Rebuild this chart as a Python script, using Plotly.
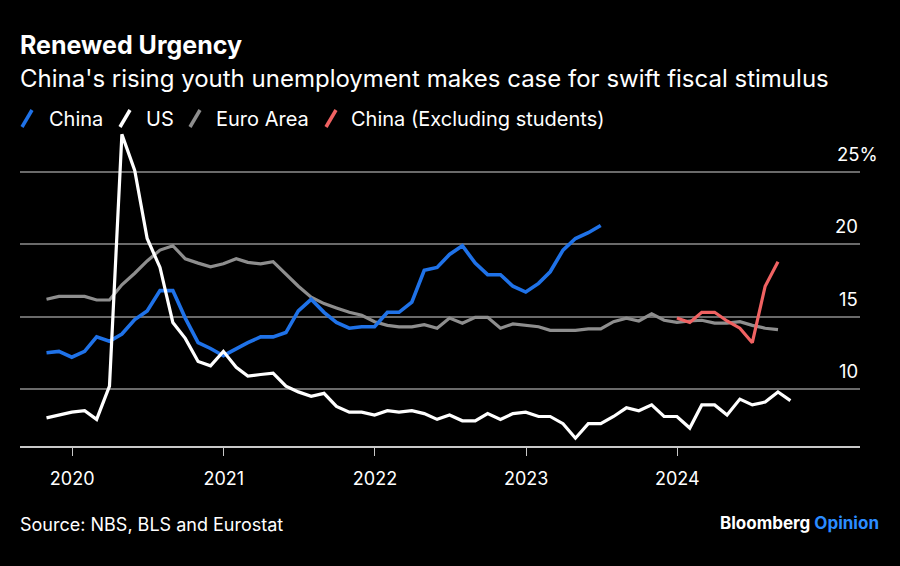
import plotly.graph_objects as go
import pandas as pd

# ---------------- data ----------------
china = [12.5, 12.6, 12.2,
         12.6, 13.6, 13.3, 13.8, 14.8, 15.4, 16.8, 16.8, 14.9, 13.2, 12.8, 12.3,
         12.8, 13.2, 13.6, 13.6, 13.9, 15.4, 16.2, 15.3, 14.6, 14.2, 14.3, 14.3,
         15.3, 15.3, 16.0, 18.2, 18.4, 19.3, 19.9, 18.7, 17.9, 17.9, 17.1, 16.7,
         17.3, 18.1, 19.6, 20.4, 20.8, 21.3]
us = [8.0, 8.2, 8.4,
      8.5, 7.9, 10.2, 27.6, 25.1, 20.4, 18.4, 14.6, 13.5, 11.9, 11.6, 12.6,
      11.5, 10.9, 11.0, 11.1, 10.2, 9.8, 9.5, 9.7, 8.8, 8.4, 8.4, 8.2,
      8.5, 8.4, 8.5, 8.3, 7.9, 8.2, 7.8, 7.8, 8.3, 7.9, 8.3, 8.4,
      8.1, 8.1, 7.6, 6.6, 7.6, 7.6, 8.1, 8.7, 8.5, 8.9, 8.1, 8.1,
      7.3, 8.9, 8.9, 8.2, 9.3, 8.9, 9.1, 9.8, 9.2]
euro = [16.2, 16.4, 16.4,
        16.4, 16.15, 16.15, 17.2, 18.0, 18.85, 19.6, 19.9, 19.0, 18.7, 18.45, 18.65,
        19.0, 18.75, 18.65, 18.8, 17.9, 17.1, 16.35, 15.9, 15.6, 15.3, 15.1, 14.65,
        14.4, 14.3, 14.3, 14.45, 14.2, 14.9, 14.55, 14.95, 14.95, 14.2, 14.5, 14.4,
        14.3, 14.05, 14.05, 14.05, 14.15, 14.15, 14.65, 14.9, 14.7, 15.2, 14.75, 14.6,
        14.7, 14.75, 14.55, 14.55, 14.65, 14.4, 14.2, 14.1]
china_ex = [14.9, 14.6, 15.3, 15.3, 14.7, 14.2, 13.2, 17.1, 18.8]

series_names = ["China", "US", "Euro Area", "China (Excluding students)"]
series_colors = ["#1f72e8", "#ffffff", "#8e8e8e", "#f06262"]

year_ticks = ["2020-01-01", "2021-01-01", "2022-01-01", "2023-01-01", "2024-01-01"]
year_labels = ["2020", "2021", "2022", "2023", "2024"]
y_ticks = [10, 15, 20, 25]
y_labels = ["10", "15", "20", "25%"]

main_dates = pd.date_range("2019-10-31", periods=len(us), freq="ME")
ex_dates = pd.date_range("2023-12-31", periods=len(china_ex), freq="ME")

FONT = "Inter"

fig = go.Figure()
# drawing order: Euro, China ex-students, China, US
fig.add_trace(go.Scatter(x=main_dates[:len(euro)], y=euro, mode="lines",
                         line=dict(color=series_colors[2], width=3.2), name=series_names[2]))
fig.add_trace(go.Scatter(x=ex_dates, y=china_ex, mode="lines",
                         line=dict(color=series_colors[3], width=3.2), name=series_names[3]))
fig.add_trace(go.Scatter(x=main_dates[:len(china)], y=china, mode="lines",
                         line=dict(color=series_colors[0], width=3.6), name=series_names[0]))
fig.add_trace(go.Scatter(x=main_dates, y=us, mode="lines",
                         line=dict(color=series_colors[1], width=3.2), name=series_names[1]))

# plot area in pixels: x 20..860, y 130..446
L, R, T, B = 20, 860, 130, 446
W, H = 900, 566


def px(X):
    return (X - L) / (R - L)


def py(Y):
    return (B - Y) / (B - T)


annotations = []
shapes = []

annotations.append(dict(text="<b>Renewed Urgency</b>", x=px(18), y=py(45), xref="paper", yref="paper",
                        xanchor="left", yanchor="middle", showarrow=False,
                        font=dict(family=FONT, size=25, color="white")))
annotations.append(dict(text="China's rising youth unemployment makes case for swift fiscal stimulus",
                        x=px(18), y=py(78), xref="paper", yref="paper",
                        xanchor="left", yanchor="middle", showarrow=False,
                        font=dict(family=FONT, size=24, color="white")))

# legend
slash_x = [22, 120, 190, 326]
text_x = [47, 144, 214, 349]
for name, col, sx, tx in zip(series_names, series_colors, slash_x, text_x):
    shapes.append(dict(type="line", xref="paper", yref="paper",
                       x0=px(sx), y0=py(127), x1=px(sx + 10), y1=py(110),
                       line=dict(color=col, width=3.5)))
    annotations.append(dict(text=name, x=px(tx), y=py(119), xref="paper", yref="paper",
                            xanchor="left", yanchor="middle", showarrow=False,
                            font=dict(family=FONT, size=20, color="white")))

# y tick labels above gridlines, on the right
for v, lab in zip(y_ticks, y_labels):
    if lab.endswith("%"):
        annotations.append(dict(text=lab, x=px(835), y=v, xref="paper", yref="y",
                                xanchor="left", yanchor="middle", yshift=18, showarrow=False,
                                font=dict(family=FONT, size=18.5, color="white")))
    else:
        annotations.append(dict(text=lab, x=1.0, y=v, xref="paper", yref="y",
                                xanchor="right", yanchor="middle", yshift=18, showarrow=False,
                                font=dict(family=FONT, size=18.5, color="white")))

annotations.append(dict(text="Source: NBS, BLS and Eurostat", x=px(18), y=py(524), xref="paper", yref="paper",
                        xanchor="left", yanchor="middle", showarrow=False,
                        font=dict(family=FONT, size=18, color="white")))
annotations.append(dict(text="<b>Bloomberg <span style='color:#2b8cff'>Opinion</span></b>",
                        x=px(881), y=py(523), xref="paper", yref="paper",
                        xanchor="right", yanchor="middle", showarrow=False,
                        font=dict(family=FONT, size=17, color="white")))

fig.update_layout(
    width=W, height=H,
    paper_bgcolor="black", plot_bgcolor="black",
    margin=dict(l=L, r=W - R, t=T, b=H - B),
    showlegend=False,
    annotations=annotations,
    shapes=shapes,
    hovermode=False,
)
fig.update_xaxes(
    range=["2019-08-28", "2025-03-17"],
    tickvals=year_ticks, ticktext=year_labels,
    showgrid=False, zeroline=False,
    showline=True, linecolor="#c8c8c8", linewidth=1.5,
    ticks="outside", ticklen=8, tickwidth=1.2, tickcolor="#c8c8c8",
    tickfont=dict(family=FONT, size=18, color="white"),
    ticklabelstandoff=8,
)
fig.update_yaxes(
    range=[6.06, 27.9],
    tickvals=y_ticks, showticklabels=False,
    showgrid=True, gridcolor="#6a6a6a", gridwidth=1.5,
    zeroline=False, showline=False,
)

fig.write_html("out.html")
